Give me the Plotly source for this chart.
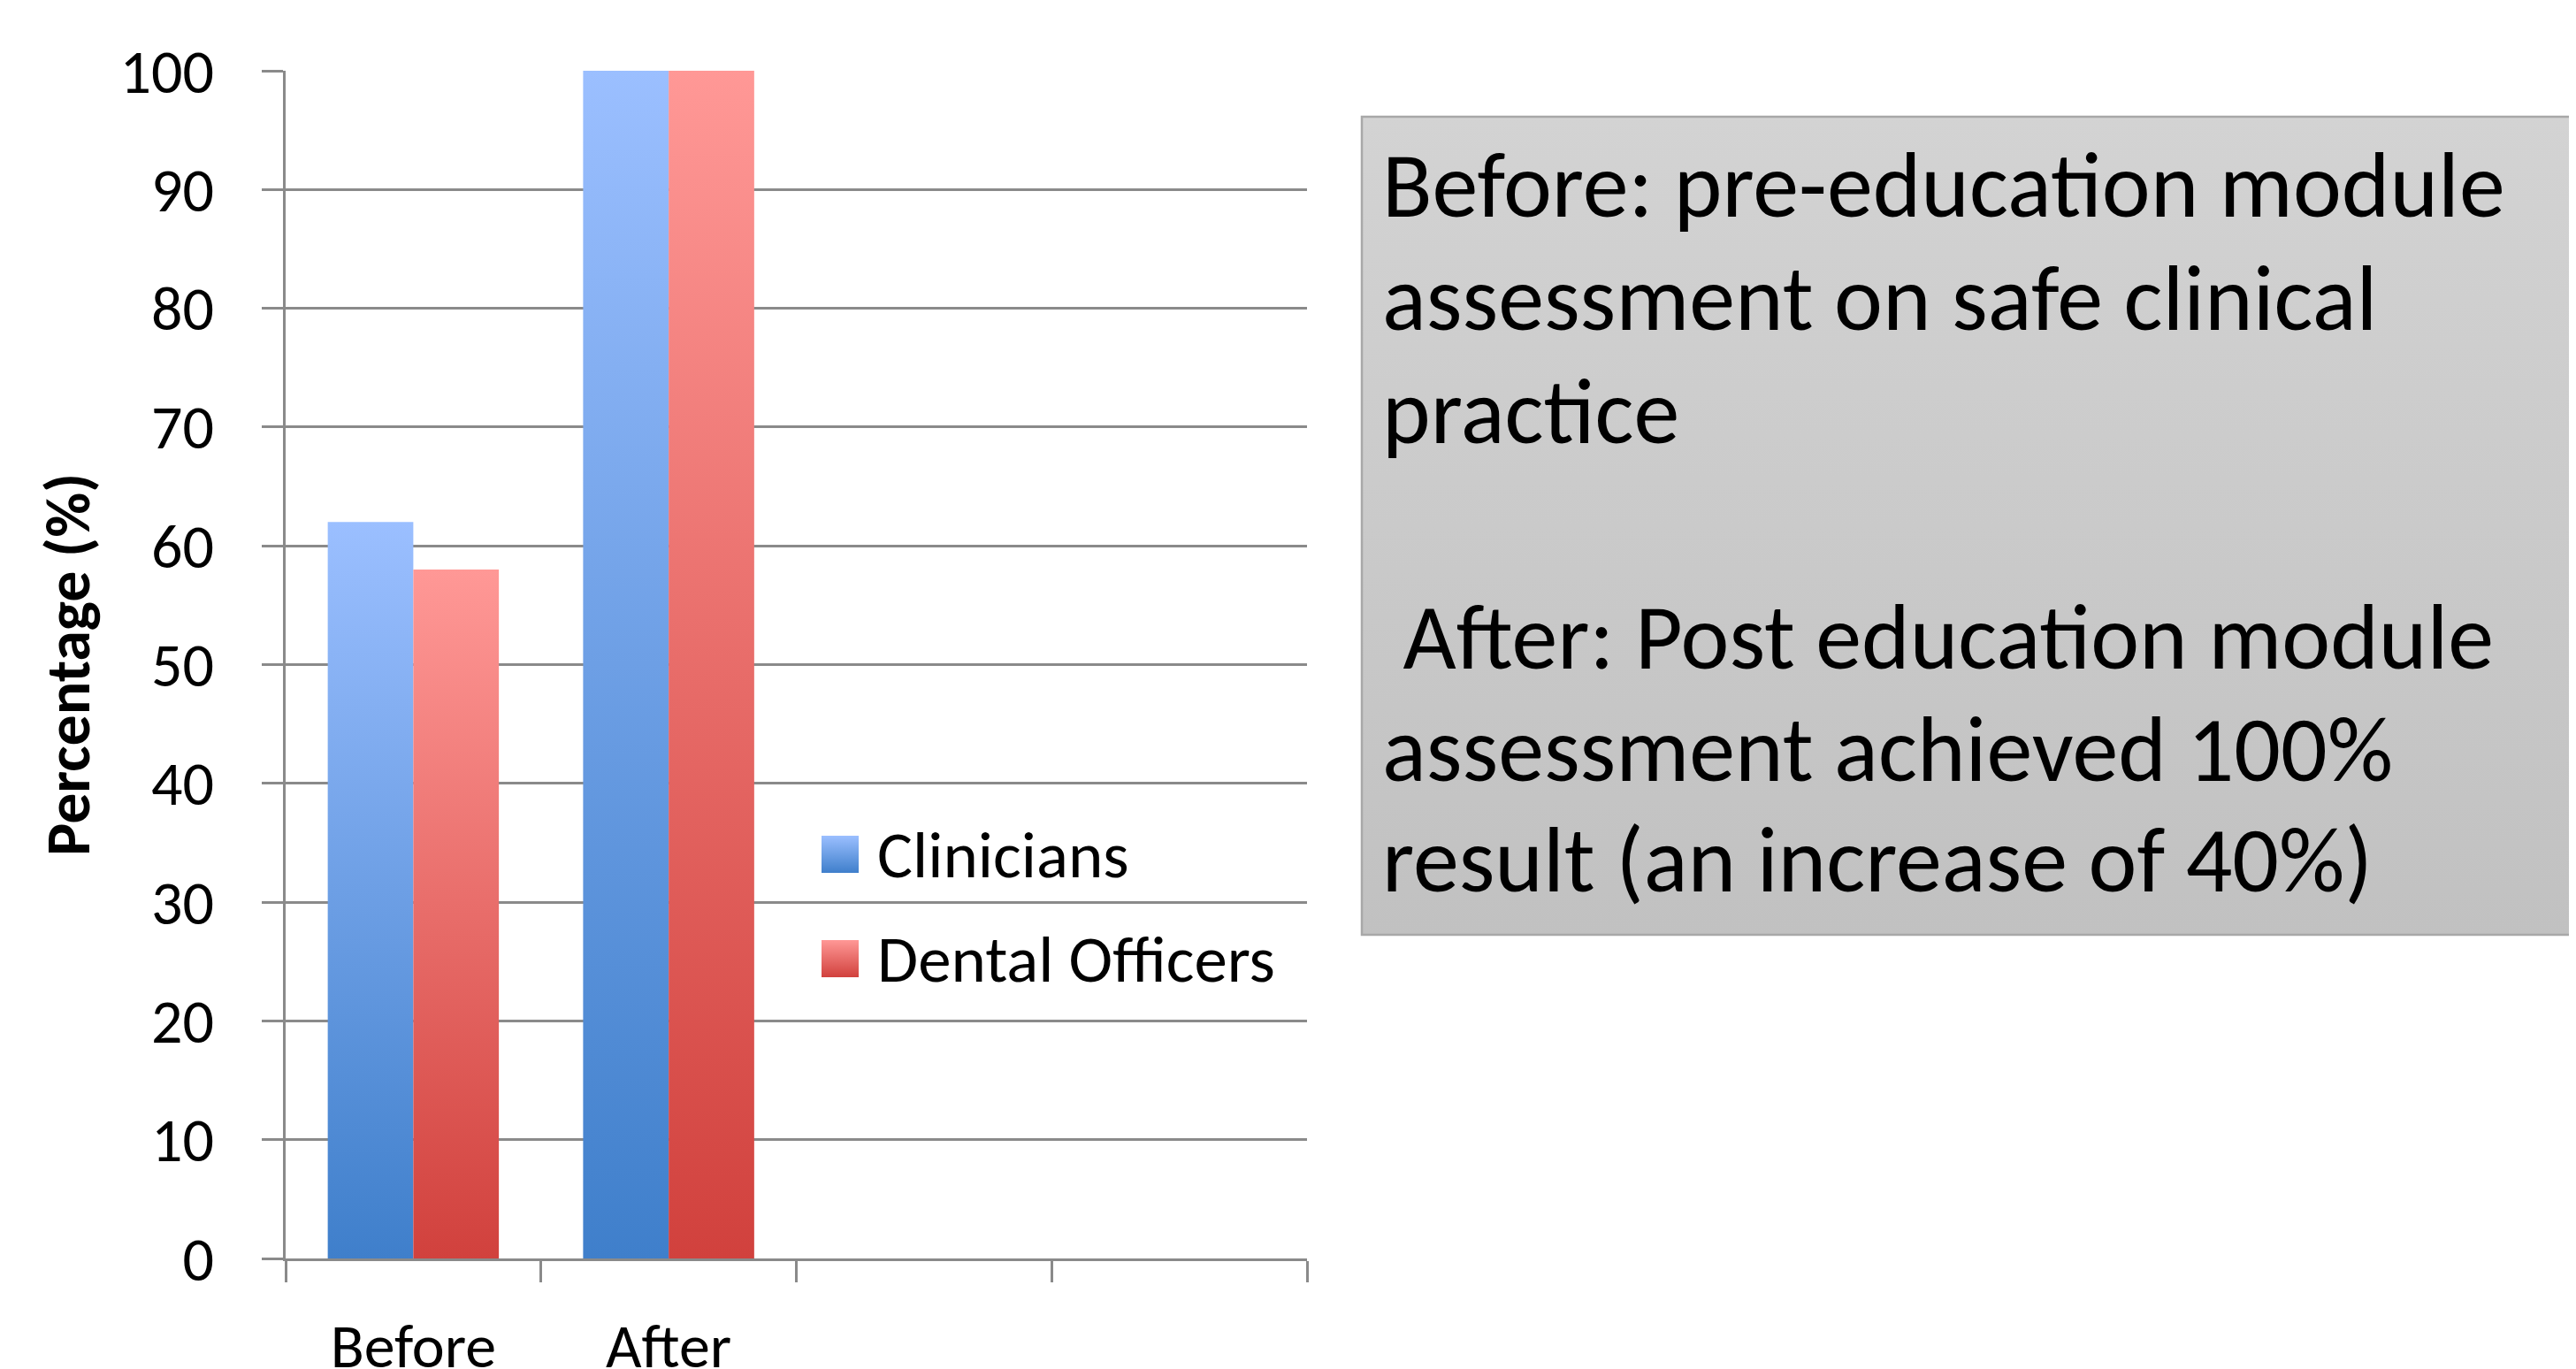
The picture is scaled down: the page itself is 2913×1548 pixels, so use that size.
import plotly.graph_objects as go

# ---------------- data ----------------
categories = ["Before", "After"]
series_names = ["Clinicians", "Dental Officers"]
clinicians = [62, 100]
dental_officers = [58, 100]
y_ticks = [0, 10, 20, 30, 40, 50, 60, 70, 80, 90, 100]
n_slots = 4  # category slots on the axis (two are empty)
note_lines = [
    "Before: pre-education module",
    "assessment on safe clinical",
    "practice",
    "",
    "\u00a0After: Post education module",
    "assessment achieved 100%",
    "result (an increase of 40%)",
]

# ---------------- style ----------------
OFF = 8                      # default page (body) margin in the browser
SCREEN_W, SCREEN_H = 2913, 1548
W_FIG, H_FIG = SCREEN_W - OFF, SCREEN_H - OFF
PLOT_L, PLOT_T, PLOT_B = 323, 80, 1423          # screen pixels of the plot area
L, T = PLOT_L - OFF, PLOT_T - OFF
B = H_FIG - (PLOT_B - OFF)
R = 0
PW, PH = W_FIG - L - R, H_FIG - T - B
FONT = "Carlito, Lato, sans-serif"
GRID = "#8a8a8a"
BLUE = ("#3f7fcb", "#9bbfff")   # bottom, top
RED = ("#d1413d", "#ff9896")
BOX = ("#c1c1c1", "#d3d3d3")
BARGAP = 0.33
TICK_SIZE = 70
LEG_SIZE = 75
NOTE_SIZE = 104


def px_x(x):
    return (x - OFF - L) / PW


def px_y(y):
    return (T + PH - (y - OFF)) / PH


fig = go.Figure()

# ---------------- bars (gradient filled) ----------------
bar_w = (1 - BARGAP) / 2
for s, (vals, cols) in enumerate([(clinicians, BLUE), (dental_officers, RED)]):
    for i, v in enumerate(vals):
        x0 = i - (1 - BARGAP) / 2 + s * bar_w
        x1 = x0 + bar_w
        fig.add_trace(go.Scatter(
            x=[x0, x0, x1, x1, x0], y=[0, v, v, 0, 0],
            mode="lines", fill="toself",
            fillgradient=dict(type="vertical", colorscale=[[0, cols[0]], [1, cols[1]]]),
            line=dict(width=0, color=cols[0]),
            name=series_names[s], showlegend=False,
            hovertemplate=f"{series_names[s]} – {categories[i]}: {v}%<extra></extra>",
            xaxis="x", yaxis="y",
        ))

# ---------------- legend (manual, gradient squares) ----------------
leg_rows = [966, 1084]
for s, cols in enumerate([BLUE, RED]):
    fig.add_trace(go.Scatter(
        x=[px_x(950)], y=[px_y(leg_rows[s])], mode="markers",
        marker=dict(symbol="square", size=42, color=cols[1],
                    gradient=dict(type="vertical", color=cols[0]),
                    line=dict(width=0)),
        showlegend=False, hoverinfo="skip", xaxis="x2", yaxis="y2",
    ))
    fig.add_annotation(
        x=px_x(990), y=px_y(leg_rows[s]), xref="paper", yref="paper",
        text=series_names[s], showarrow=False, xanchor="left", yanchor="middle",
        font=dict(family=FONT, size=LEG_SIZE, color="black"),
    )

# ---------------- text box ----------------
box_l, box_t, box_b = 1540, 132, 1057
pad = 10
bh = box_b - box_t
fig.add_trace(go.Scatter(
    x=[0, 0, 1.5, 1.5, 0], y=[0, 1, 1, 0, 0], mode="lines", fill="toself",
    fillgradient=dict(type="vertical", colorscale=[[0, BOX[0]], [1, BOX[1]]]),
    line=dict(width=0, color="#a8a8a8"),
    showlegend=False, hoverinfo="skip", xaxis="x3", yaxis="y3",
))
fig.add_trace(go.Scatter(
    x=[1.5, 0, 0, 1.5], y=[1, 1, 0, 0], mode="lines",
    line=dict(width=2.5, color="#a8a8a8"),
    showlegend=False, hoverinfo="skip", xaxis="x3", yaxis="y3",
))
baselines = [243, 371, 499, 626, 754, 881, 1006]
for line, bl in zip(note_lines, baselines):
    if not line:
        continue
    fig.add_annotation(
        x=px_x(1561), y=px_y(bl - 0.32 * NOTE_SIZE), xref="paper", yref="paper",
        text=line, showarrow=False, xanchor="left", yanchor="middle",
        font=dict(family=FONT, size=NOTE_SIZE, color="black"),
    )

# ---------------- layout ----------------
fig.update_layout(
    width=W_FIG, height=H_FIG,
    margin=dict(l=L, r=R, t=T, b=B, autoexpand=False),
    paper_bgcolor="white", plot_bgcolor="rgba(0,0,0,0)",
    showlegend=False,
    font=dict(family=FONT, color="black"),
    xaxis=dict(
        domain=[0, px_x(1478)], range=[-0.5, n_slots - 0.5],
        tickmode="array", tickvals=list(range(len(categories))), ticktext=categories,
        ticks="", showgrid=False, zeroline=False,
        showline=True, linecolor=GRID, linewidth=3,
        tickfont=dict(family=FONT, size=TICK_SIZE, color="black"),
        ticklabelstandoff=36,
        minor=dict(ticks="outside", ticklen=24, tickwidth=3, tickcolor=GRID,
                   tick0=-0.5, dtick=1, showgrid=False),
        anchor="y", fixedrange=True,
    ),
    yaxis=dict(
        domain=[0, 1], range=[0, 100],
        tickmode="array", tickvals=y_ticks,
        ticks="outside", ticklen=24, tickwidth=3, tickcolor=GRID,
        showgrid=True, gridcolor=GRID, gridwidth=3, zeroline=False,
        showline=True, linecolor=GRID, linewidth=3,
        tickfont=dict(family=FONT, size=TICK_SIZE, color="black"),
        ticklabelstandoff=40,
        title=dict(text="<b>Percentage (%)</b>", standoff=12,
                   font=dict(family=FONT, size=70, color="black")),
        anchor="x", fixedrange=True,
    ),
    xaxis2=dict(domain=[0, 1], range=[0, 1], visible=False, anchor="y2", fixedrange=True),
    yaxis2=dict(domain=[0, 1], range=[0, 1], visible=False, anchor="x2", fixedrange=True),
    xaxis3=dict(domain=[px_x(box_l - pad), 1],
                range=[-pad / (SCREEN_W - box_l), 1], visible=False, anchor="y3", fixedrange=True),
    yaxis3=dict(domain=[px_y(box_b + pad), px_y(box_t - pad)],
                range=[-pad / bh, 1 + pad / bh], visible=False, anchor="x3", fixedrange=True),
)

fig.write_html("out.html")
